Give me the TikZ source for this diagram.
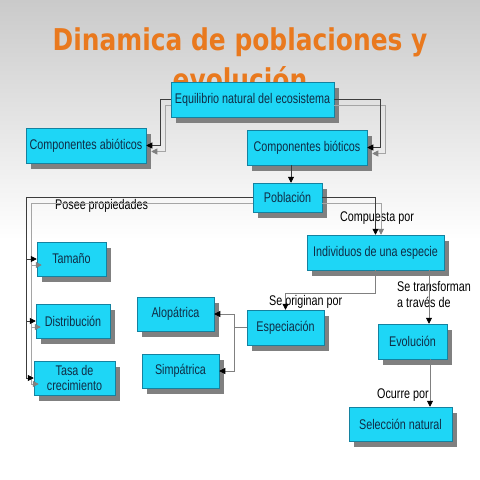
\documentclass[tikz,border=0pt]{standalone}
\usepackage{fontspec}
\usetikzlibrary{arrows.meta,shadows}
\newfontfamily\boxfont[FakeStretch=0.77]{Liberation Sans}
\newfontfamily\titlefont[FakeStretch=0.83]{DejaVu Sans}
\definecolor{cyanfill}{RGB}{30,214,246}
\definecolor{cyanborder}{RGB}{20,130,160}
\definecolor{boxtext}{RGB}{15,45,70}
\definecolor{shadowgray}{RGB}{128,128,128}
\definecolor{titleorange}{RGB}{233,121,30}
\definecolor{linegray}{RGB}{165,165,165}
\definecolor{linedark}{RGB}{60,60,60}
\definecolor{bgtop}{RGB}{202,202,202}
\begin{document}
\begin{tikzpicture}[x=1pt,y=-1pt,
 box/.style={draw=cyanborder, line width=0.5pt, fill=cyanfill, text=boxtext,
   font={\boxfont\fontsize{14}{15.5}\selectfont}, inner sep=2pt, align=center,
   drop shadow={shadow xshift=5pt,shadow yshift=-6pt,fill=shadowgray,opacity=1}},
 lbl/.style={font={\boxfont\fontsize{14}{16}\selectfont}, text=black, inner sep=0pt, anchor=west, align=left},
 ttl/.style={font={\titlefont\bfseries\fontsize{30}{40}\selectfont}, text=titleorange, anchor=base, inner sep=0pt},
 mainline/.style={draw=linedark, line width=0.6pt, -{Triangle[length=6pt,width=6pt,color=black]}},
 ghost/.style={draw=linegray, line width=0.8pt, -{Triangle[length=6pt,width=6pt,color=gray]}},
 thinline/.style={draw=gray, line width=0.6pt, -{Triangle[length=6pt,width=6pt,color=black]}},
]
% background
\useasboundingbox (0,0) rectangle (480,480);
\shade[top color=bgtop, bottom color=white] (0,0) rectangle (480,240);
\fill[white] (0,240) rectangle (480,480);

% title
\node[ttl] (t1) at (240,50) {Dinamica de poblaciones y};
\node[ttl] (t2) at (240,90) {evolución};

% boxes
\node[box, minimum width=163pt, minimum height=35pt] (eq) at (252.5,99.5) {Equilibrio natural del ecosistema};
\node[box, minimum width=120pt, minimum height=35pt] (abio) at (86,145.5) {Componentes abióticos};
\node[box, minimum width=120pt, minimum height=35pt] (bio) at (307,147.5) {Componentes bióticos};
\node[box, minimum width=69pt, minimum height=29pt] (pob) at (287.5,197.5) {Población};
\node[box, minimum width=137pt, minimum height=35pt] (ind) at (375.5,252.5) {Individuos de una especie};
\node[box, minimum width=69pt, minimum height=34pt] (tam) at (71.5,259) {Tamaño};
\node[box, minimum width=74pt, minimum height=34pt] (dist) at (73,321) {Distribución};
\node[box, minimum width=81pt, minimum height=34pt] (tasa) at (74.5,378) {Tasa de\\crecimiento};
\node[box, minimum width=77pt, minimum height=34pt] (alo) at (175.5,314) {Alopátrica};
\node[box, minimum width=77pt, minimum height=34pt] (sim) at (180.5,371) {Simpátrica};
\node[box, minimum width=77pt, minimum height=35pt] (esp) at (285.5,327.5) {Especiación};
\node[box, minimum width=69pt, minimum height=35pt] (evo) at (412.5,341.5) {Evolución};
\node[box, minimum width=103pt, minimum height=34pt] (sel) at (400.5,424) {Selección natural};

% labels
\node[lbl] (lpos) at (55,206) {Posee propiedades};
\node[lbl] (lcomp) at (340,218) {Compuesta por};
\node[lbl] (lorig) at (269,302) {Se originan por};
\node[lbl] (ltrans) at (397,294) {Se transforman\\a través de};
\node[lbl] (locur) at (377,395) {Ocurre por};

% helper coordinates
\coordinate (lx) at (26,0);
\coordinate (gx) at (31,0);
\coordinate (jx) at (234,0);
\coordinate (ex) at (429,0);
\coordinate (sx) at (430,0);
\coordinate (eqw2) at ([yshift=-6pt]eq.west);
\coordinate (eqe2) at ([yshift=-6pt]eq.east);
\coordinate (pw2) at ([yshift=-6pt]pob.west);
\coordinate (pe2) at ([yshift=-6pt]pob.east);

% equilibrio -> componentes
\draw[ghost] (eqw2) -- ++(-5,0) |- ([xshift=5pt,yshift=-6pt]abio.east);
\draw[mainline] (eq.west) -- ++(-10,0) |- (abio.east);
\draw[ghost] (eqe2) -- ++(51,0) |- ([xshift=5pt,yshift=-6pt]bio.east);
\draw[mainline] (eq.east) -- ++(46,0) |- (bio.east);

% bioticos -> poblacion
\draw[mainline] ([xshift=-16pt]bio.south) -- ([xshift=-16pt]bio.south |- pob.north);

% poblacion -> propiedades
\draw[ghost] (pw2) -- (pw2 -| gx) |- ([xshift=5pt,yshift=-6pt]tasa.west);
\draw[ghost] (pw2 -| gx) |- ([xshift=5pt,yshift=-6pt]tam.west);
\draw[ghost] (pw2 -| gx) |- ([xshift=5pt,yshift=-6pt]dist.west);
\draw[mainline] (pob.west) -- (pob.west -| lx) |- (tasa.west);
\draw[mainline] (pob.west -| lx) |- (tam.west);
\draw[mainline] (pob.west -| lx) |- (dist.west);

% poblacion -> individuos
\draw[ghost] (pe2) -| ([xshift=5.5pt]ind.north);
\draw[mainline] (pob.east) -| (ind.north);

% individuos -> especiacion / evolucion
\draw[thinline] (ind.south) -- ++(0,23) -| (esp.north);
\draw[thinline] (ind.south -| ex) -- (evo.north -| ex);

% especiacion -> alopatrica / simpatrica
\draw[thinline] (esp.west) -- (esp.west -| jx) |- (alo.east);
\draw[thinline] (esp.west -| jx) |- (sim.east);

% evolucion -> seleccion
\draw[thinline] (evo.south -| sx) -- (sel.north -| sx);
\end{tikzpicture}
\end{document}
